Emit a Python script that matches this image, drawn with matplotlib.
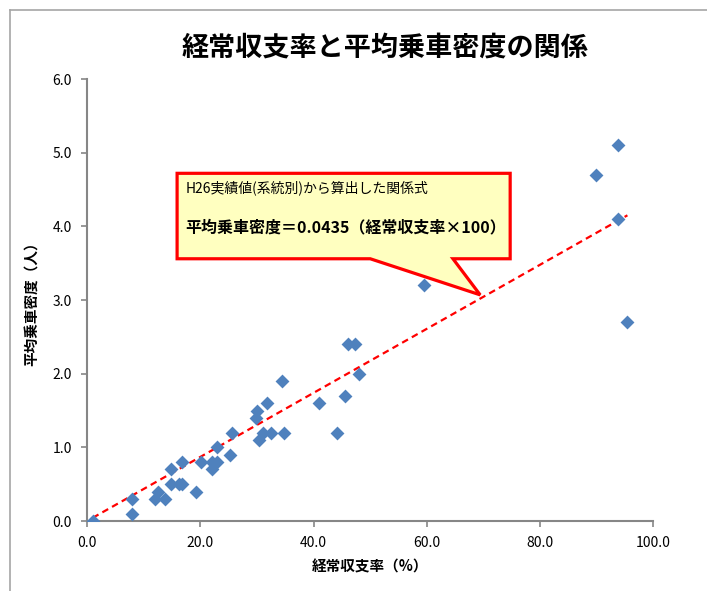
import matplotlib
matplotlib.use("Agg")
import matplotlib.pyplot as plt
import numpy as np
from matplotlib.patches import Polygon
from matplotlib.lines import Line2D

plt.rcParams['font.family'] = ['Noto Sans CJK JP', 'DejaVu Sans']

# 経常収支率(%) と 平均乗車密度(人)
ratio = [1.0, 8.0, 8.0, 12.0, 12.5, 13.8, 14.9, 14.9, 16.3, 16.7, 16.8, 19.3,
         20.2, 22.1, 22.1, 23.0, 22.9, 25.2, 25.6, 29.9, 30.0, 31.7, 30.3, 31.0,
         32.4, 34.4, 34.8, 41.0, 44.2, 45.6, 46.0, 47.3, 48.1, 59.4, 89.9, 93.7,
         93.8, 95.4]
density = [0.0, 0.3, 0.1, 0.3, 0.4, 0.3, 0.7, 0.5, 0.5, 0.5, 0.8, 0.4,
           0.8, 0.8, 0.7, 0.8, 1.0, 0.9, 1.2, 1.4, 1.5, 1.6, 1.1, 1.2,
           1.2, 1.9, 1.2, 1.6, 1.2, 1.7, 2.4, 2.4, 2.0, 3.2, 4.7, 5.1,
           4.1, 2.7]
slope = 0.0435

title = '経常収支率と平均乗車密度の関係'
xlabel = '経常収支率（%）'
ylabel = '平均乗車密度（人）'
note1 = 'H26実績値(系統別)から算出した関係式'
note2 = '平均乗車密度＝0.0435（経常収支率×100）'

fig = plt.figure(figsize=(7.07, 5.91), dpi=100)
ax = fig.add_axes([0.1231, 0.1184, 0.8012, 0.7479])

ax.scatter(ratio, density, marker='D', s=50, color='#4F81BD', zorder=3, linewidths=0)

xs = np.array([min(ratio), max(ratio)])
ax.plot(xs, slope * xs, color='#FF0000', lw=1.6, ls=(0, (3, 2)), zorder=2)

ax.set_xlim(0, 100)
ax.set_ylim(0, 6)
ax.set_xticks(np.arange(0, 101, 20))
ax.set_yticks(np.arange(0, 6.1, 1))
ax.xaxis.set_major_formatter(plt.FormatStrFormatter('%.1f'))
ax.yaxis.set_major_formatter(plt.FormatStrFormatter('%.1f'))
for s in ['top', 'right']:
    ax.spines[s].set_visible(False)
for s in ['left', 'bottom']:
    ax.spines[s].set_color('#868686')
    ax.spines[s].set_linewidth(1.5)
ax.tick_params(axis='both', direction='out', length=4, width=1.2, color='#868686',
               labelsize=10, pad=7)

ax.set_xlabel(xlabel, fontsize=10.5, fontweight='bold', labelpad=6)
ax.set_ylabel(ylabel, fontsize=10.5, fontweight='bold', labelpad=9)

fig.text(0.545, 0.92, title, fontsize=19.5, fontweight='bold', ha='center', va='center')

# callout
callout = Polygon([(15.9, 4.72), (74.7, 4.72), (74.7, 3.56), (64.6, 3.56),
                   (69.4, 3.07), (50.0, 3.56), (15.9, 3.56)],
                  closed=True, facecolor='#FFFFC0', edgecolor='#FF0000', lw=2.3,
                  joinstyle='miter', clip_on=False, zorder=4)
ax.add_patch(callout)
ax.text(17.4, 4.53, note1, fontsize=10, va='center', ha='left', zorder=5)
ax.text(17.4, 3.98, note2, fontsize=11.5, fontweight='bold', va='center', ha='left', zorder=5)

# outer frame
W, H = 707, 591
fig.add_artist(Line2D([10 / W, 1], [1 - 10 / H, 1 - 10 / H], color='#A6A6A6', lw=1.2))
fig.add_artist(Line2D([10 / W, 10 / W], [0, 1 - 10 / H], color='#A6A6A6', lw=1.2))

fig.savefig('out.png', dpi=100)
